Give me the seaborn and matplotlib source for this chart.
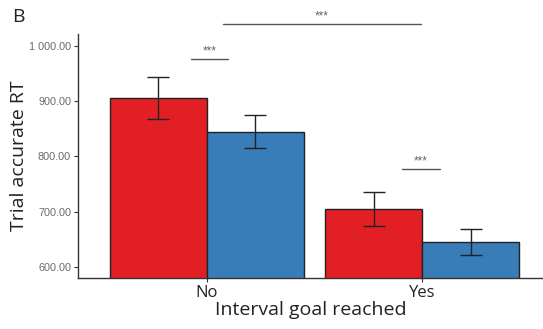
import matplotlib
matplotlib.use("Agg")
import matplotlib.pyplot as plt
import seaborn as sns
import pandas as pd

# Mean trial-accurate RT (ms) and its error, per interval-goal outcome and group
goal_levels = ["No", "Yes"]
group_levels = ["Group 1", "Group 2"]
goal = ["No", "No", "Yes", "Yes"]
group = ["Group 1", "Group 2", "Group 1", "Group 2"]
mean_rt = [905.5, 845.0, 705.0, 645.0]
err_rt = [37.7, 30.0, 31.0, 24.0]

y_ticks = [600, 700, 800, 900, 1000]
y_tick_labels = ["600.00", "700.00", "800.00", "900.00", "1 000.00"]

# Significance brackets: (x start, x end, height, label)
sig_x0 = [0.075, -0.075, 0.905]
sig_x1 = [0.995, 0.10, 1.08]
sig_y = [1039.0, 976.0, 777.0]
sig_text = ["***", "***", "***"]

colors = {"Group 1": "#E31F26", "Group 2": "#387CB8"}

df = pd.DataFrame({"goal": goal, "group": group, "rt": mean_rt, "err": err_rt})

sns.set_theme(style="white")
plt.rcParams["font.family"] = ["Open Sans", "DejaVu Sans"]

fig = plt.figure(figsize=(5.43, 3.29), dpi=100)
ax = fig.add_axes([0.1436, 0.1541, 0.8564, 0.7426])

sns.barplot(data=df, x="goal", y="rt", hue="group", order=goal_levels,
            hue_order=group_levels, palette=colors, saturation=1, width=0.9,
            errorbar=None, edgecolor="#222222", linewidth=1.0, legend=False,
            ax=ax)

# Error bars placed at each drawn bar's centre
err_lookup = {round(m, 3): e for m, e in zip(mean_rt, err_rt)}
for bar in ax.patches:
    h = bar.get_height()
    cx = bar.get_x() + bar.get_width() / 2
    ax.errorbar(cx, h, yerr=err_lookup[round(h, 3)], color="#222222",
                elinewidth=1.0, capsize=7.6, capthick=1.0, zorder=5)

ax.set_ylim(579.5, 1021.7)
ax.set_xlim(-0.597, 1.56)
ax.set_yticks(y_ticks)
ax.set_yticklabels(y_tick_labels, family=["Liberation Sans", "DejaVu Sans"],
                   fontsize=7.8, color="#6b6b6b")
ax.tick_params(axis="x", labelsize=12, labelcolor="#222222", pad=2)
ax.tick_params(axis="both", which="major", length=3, width=0.8,
               color="#333333", left=True, bottom=True)
ax.tick_params(axis="y", pad=2)

for side in ["top", "right"]:
    ax.spines[side].set_visible(False)
for side in ["left", "bottom"]:
    ax.spines[side].set_color("#333333")
    ax.spines[side].set_linewidth(1.0)

ax.set_xlabel("Interval goal reached", fontsize=14, color="#222222", labelpad=0)
ax.set_ylabel("Trial accurate RT", fontsize=14, color="#222222", labelpad=0.5)

for x0, x1, y, t in zip(sig_x0, sig_x1, sig_y, sig_text):
    ax.plot([x0, x1], [y, y], color="#555555", linewidth=1.0, clip_on=False)
    ax.text((x0 + x1) / 2, y + 4, t, ha="center", va="bottom", fontsize=8.5,
            color="#666666", family=["Liberation Sans", "DejaVu Sans"])

fig.text(0.022, 0.975, "B", fontsize=14, color="#222222", ha="left", va="top")

fig.savefig("out.png", dpi=100)
